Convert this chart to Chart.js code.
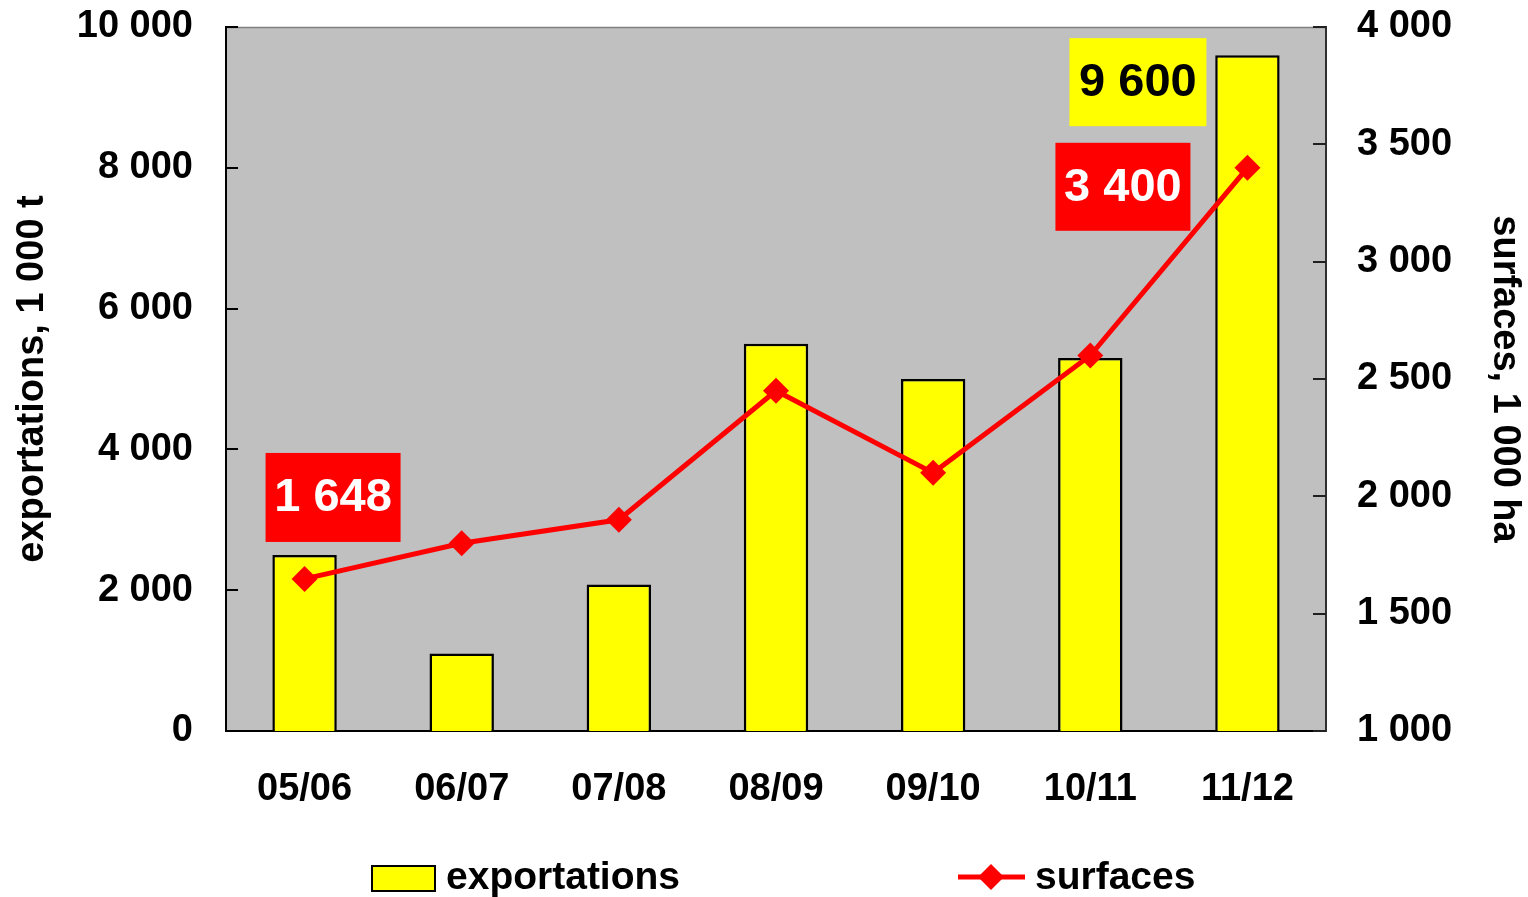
<!DOCTYPE html>
<html>
<head>
<meta charset="utf-8">
<script src="https://cdn.jsdelivr.net/npm/chart.js@4/dist/chart.umd.min.js"></script>
<style>
  html, body { margin: 0; padding: 0; background: #fff; }
  #wrap { width: 1528px; height: 897px; position: relative; }
</style>
</head>
<body>
<div id="wrap"><canvas id="c" width="1528" height="897"></canvas></div>
<script>
// ---- data ----
const categories = ['05/06', '06/07', '07/08', '08/09', '09/10', '10/11', '11/12'];
const exportations = [2500, 1100, 2080, 5500, 5000, 5300, 9600];
const surfaces = [1648, 1800, 1900, 2450, 2100, 2600, 3400];
const leftTicks = [0, 2000, 4000, 6000, 8000, 10000];
const rightTicks = [1000, 1500, 2000, 2500, 3000, 3500, 4000];
const seriesNames = ['exportations', 'surfaces'];
const axisTitles = ['exportations, 1 000 t', 'surfaces, 1 000 ha'];
// labelled points: [datasetIndex, pointIndex]
const labelledPoints = [[1, 0], [1, 6], [0, 6]];

const FONT = '"Liberation Sans", Arial, Helvetica, sans-serif';
const fmt = v => String(Math.round(v)).replace(/\B(?=(\d{3})+(?!\d))/g, ' ');

const plotBg = {
  id: 'plotBg',
  beforeDraw(chart) {
    const { ctx, chartArea: a } = chart;
    ctx.save();
    ctx.fillStyle = '#C0C0C0';
    ctx.fillRect(a.left, a.top, a.right - a.left, a.bottom - a.top);
    ctx.strokeStyle = '#808080';
    ctx.lineWidth = 1.5;
    ctx.beginPath();
    ctx.moveTo(a.left, a.top + 0.5);
    ctx.lineTo(a.right, a.top + 0.5);
    ctx.stroke();
    ctx.restore();
  },
  afterDraw(chart) {
    // inner tick marks
    const { ctx, chartArea: a, scales } = chart;
    ctx.save();
    ctx.strokeStyle = '#000';
    ctx.lineWidth = 2;
    leftTicks.forEach(v => {
      const y = Math.round(scales.y.getPixelForValue(v));
      ctx.beginPath(); ctx.moveTo(a.left, y); ctx.lineTo(a.left + 12, y); ctx.stroke();
    });
    ctx.strokeStyle = '#202020';
    rightTicks.forEach(v => {
      const y = Math.round(scales.y1.getPixelForValue(v));
      ctx.beginPath(); ctx.moveTo(a.right - 13, y); ctx.lineTo(a.right, y); ctx.stroke();
    });
    ctx.restore();
  }
};

// data label boxes (style offsets relative to the data point)
const labelStyles = [
  { bg: '#FF0000', color: '#FFFFFF', dx: -39, dy: -126, w: 135, h: 89 },
  { bg: '#FF0000', color: '#FFFFFF', dx: -192, dy: -25, w: 135, h: 88 },
  { bg: '#FFFF00', color: '#000000', dx: -178, dy: -17, w: 137, h: 88 }
];
const dataLabels = {
  id: 'dataLabels',
  afterDatasetsDraw(chart) {
    const { ctx } = chart;
    ctx.save();
    labelledPoints.forEach(([ds, i], k) => {
      const el = chart.getDatasetMeta(ds).data[i];
      const st = labelStyles[k];
      const value = chart.data.datasets[ds].data[i];
      const x = el.x + st.dx, y = el.y + st.dy;
      ctx.fillStyle = st.bg;
      ctx.fillRect(x, y, st.w, st.h);
      ctx.fillStyle = st.color;
      ctx.font = 'bold 47px ' + FONT;
      ctx.textAlign = 'center';
      ctx.textBaseline = 'middle';
      ctx.fillText(fmt(value), x + st.w / 2, y + st.h / 2 + 1);
    });
    ctx.restore();
  }
};

const customLegend = {
  id: 'customLegend',
  afterDraw(chart) {
    const { ctx } = chart;
    const y = 878;
    ctx.save();
    ctx.font = 'bold 39px ' + FONT;
    ctx.textBaseline = 'middle';
    ctx.textAlign = 'left';
    // bar item
    ctx.fillStyle = '#FFFF00';
    ctx.fillRect(372, 866, 63, 25);
    ctx.strokeStyle = '#000';
    ctx.lineWidth = 2;
    ctx.strokeRect(372, 866, 63, 25);
    ctx.fillStyle = '#000';
    ctx.fillText(seriesNames[0], 446, y);
    // line item
    ctx.strokeStyle = '#FF0000';
    ctx.lineWidth = 5;
    ctx.beginPath(); ctx.moveTo(958, y - 1); ctx.lineTo(1025, y - 1); ctx.stroke();
    ctx.fillStyle = '#FF0000';
    ctx.beginPath();
    ctx.moveTo(991, y - 14); ctx.lineTo(1004, y - 1); ctx.lineTo(991, y + 12); ctx.lineTo(978, y - 1);
    ctx.closePath(); ctx.fill();
    ctx.fillStyle = '#000';
    ctx.fillText(seriesNames[1], 1035, y);
    ctx.restore();
  }
};

const tickFont = { family: FONT, size: 38, weight: 'bold' };
const noGrid = { display: false, drawTicks: false, tickLength: 0 };
const zeroPad = s => { s.paddingTop = 0; s.paddingBottom = 0; s.paddingLeft = 0; s.paddingRight = 0; };

new Chart(document.getElementById('c'), {
  data: {
    labels: categories,
    datasets: [
      {
        type: 'bar', label: seriesNames[0], data: exportations, yAxisID: 'y',
        backgroundColor: '#FFFF00', borderColor: '#000000', borderWidth: 2.5,
        barPercentage: 0.41, categoryPercentage: 1, order: 1
      },
      {
        type: 'line', label: seriesNames[1], data: surfaces, yAxisID: 'y1',
        borderColor: '#FF0000', backgroundColor: '#FF0000', borderWidth: 5,
        pointStyle: 'rectRot', pointRadius: 13, pointBorderWidth: 0,
        pointBackgroundColor: '#FF0000', tension: 0, order: 0
      }
    ]
  },
  options: {
    responsive: false,
    animation: false,
    events: [],
    layout: { padding: { top: 27, left: 0, right: 0, bottom: 0 } },
    plugins: { legend: { display: false }, tooltip: { enabled: false } },
    scales: {
      x: {
        position: 'bottom',
        grid: noGrid,
        border: { display: true, color: '#000', width: 2 },
        ticks: { font: tickFont, color: '#000', padding: 36, maxRotation: 0 },
        afterFit(s) { s.height = 166; zeroPad(s); }
      },
      y: {
        position: 'left', min: 0, max: 10000,
        grid: noGrid,
        border: { display: true, color: '#000', width: 2 },
        ticks: { stepSize: 2000, font: tickFont, color: '#000', padding: 33, callback: v => fmt(v) },
        title: { display: true, text: axisTitles[0], font: tickFont, color: '#000', padding: { top: 10, bottom: 0 } },
        afterFit(s) { s.width = 226; zeroPad(s); }
      },
      y1: {
        position: 'right', min: 1000, max: 4000,
        grid: noGrid,
        border: { display: true, color: '#303030', width: 2 },
        ticks: { stepSize: 500, font: tickFont, color: '#000', padding: 31, callback: v => fmt(v) },
        title: { display: true, text: axisTitles[1], font: tickFont, color: '#000', padding: { top: 1, bottom: 0 } },
        afterFit(s) { s.width = 202; zeroPad(s); }
      }
    }
  },
  plugins: [plotBg, dataLabels, customLegend]
});
</script>
</body>
</html>
